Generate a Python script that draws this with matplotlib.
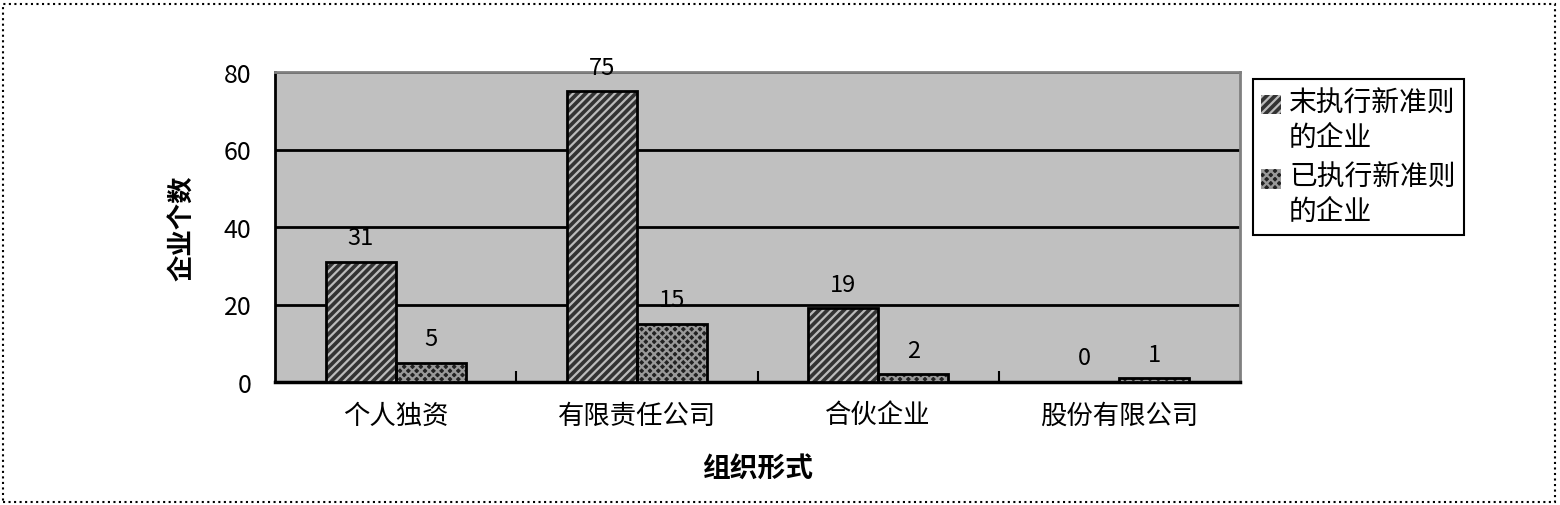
import numpy as np
import matplotlib
matplotlib.use("Agg")
import matplotlib.pyplot as plt
from matplotlib.patches import Patch, Rectangle

plt.rcParams['font.family'] = ['Noto Sans CJK SC', 'DejaVu Sans']
plt.rcParams['hatch.linewidth'] = 1.6

# 数据
categories = ['个人独资', '有限责任公司', '合伙企业', '股份有限公司']
not_adopted = [31, 75, 19, 0]   # 未执行新准则的企业
adopted = [5, 15, 2, 1]         # 已执行新准则的企业
series_names = ['末执行新准则\n的企业', '已执行新准则\n的企业']
yticks = [0, 20, 40, 60, 80]

fig = plt.figure(figsize=(15.6, 5.06), dpi=100)
ax = fig.add_axes([275 / 1560, 1 - 383 / 506, (1240 - 275) / 1560, (383 - 73) / 506])
ax.set_facecolor('#C0C0C0')

x = np.arange(len(categories))
w = 0.29

# 填充 + 斜线
ax.bar(x - w / 2, not_adopted, w, color='#333333', hatch='////', edgecolor='#BBBBBB',
       linewidth=0, zorder=3)
ax.bar(x + w / 2, adopted, w, color='#222222', hatch='xxxx', edgecolor='#999999',
       linewidth=0, zorder=3)
# 黑色边框
ax.bar(x - w / 2, not_adopted, w, fill=False, edgecolor='black', linewidth=2, zorder=4)
ax.bar(x + w / 2, adopted, w, fill=False, edgecolor='black', linewidth=2, zorder=4)

for xi, v in zip(x - w / 2, not_adopted):
    ax.annotate(str(v), (xi, v), xytext=(0, 9), textcoords='offset points',
                ha='center', va='bottom', fontsize=17)
for xi, v in zip(x + w / 2, adopted):
    ax.annotate(str(v), (xi, v), xytext=(0, 9), textcoords='offset points',
                ha='center', va='bottom', fontsize=17)

ax.set_xlim(-0.5, len(categories) - 0.5)
ax.set_ylim(0, 80)
ax.set_yticks(yticks)
ax.set_yticklabels([str(t) for t in yticks], fontsize=18)
ax.tick_params(axis='y', length=0, pad=17)

ax.set_xticks(x)
ax.set_xticklabels(categories, fontsize=19)
ax.tick_params(axis='x', which='major', length=0, pad=14)
ax.set_xticks(np.arange(0.5, len(categories) - 0.5, 1), minor=True)
ax.tick_params(axis='x', which='minor', direction='in', length=8, width=1.5, color='black')

ax.yaxis.grid(True, color='black', linewidth=2, zorder=1)
ax.set_axisbelow(True)

ax.spines['left'].set_color('black')
ax.spines['left'].set_linewidth(2)
ax.spines['bottom'].set_color('black')
ax.spines['bottom'].set_linewidth(2.5)
ax.spines['top'].set_color('#808080')
ax.spines['top'].set_linewidth(2)
ax.spines['right'].set_color('#808080')
ax.spines['right'].set_linewidth(2)

ax.set_ylabel('企业个数', fontsize=19, fontweight='bold', labelpad=20)
ax.set_xlabel('组织形式', fontsize=20, fontweight='bold', labelpad=18)

handles = [
    Patch(facecolor='#333333', hatch='////', edgecolor='#BBBBBB', linewidth=0),
    Patch(facecolor='#222222', hatch='xxxx', edgecolor='#999999', linewidth=0),
]
leg = fig.legend(handles, series_names, loc='upper left',
                 bbox_to_anchor=(1253 / 1560, 1 - 80 / 506), fontsize=20,
                 frameon=True, fancybox=False, edgecolor='black', framealpha=1,
                 borderaxespad=0, handlelength=0.7, handleheight=0.7,
                 handletextpad=0.3, labelspacing=0.35, borderpad=0.3)
leg.get_frame().set_linewidth(1.5)
for h in leg.legend_handles:
    h.set_y(h.get_y() + 12)

# 外框虚线
fig.patches.append(Rectangle((0.002, 0.006), 0.995, 0.985, transform=fig.transFigure,
                             fill=False, edgecolor='black', linestyle=':', linewidth=1.5))

fig.savefig('out.png', dpi=100)
